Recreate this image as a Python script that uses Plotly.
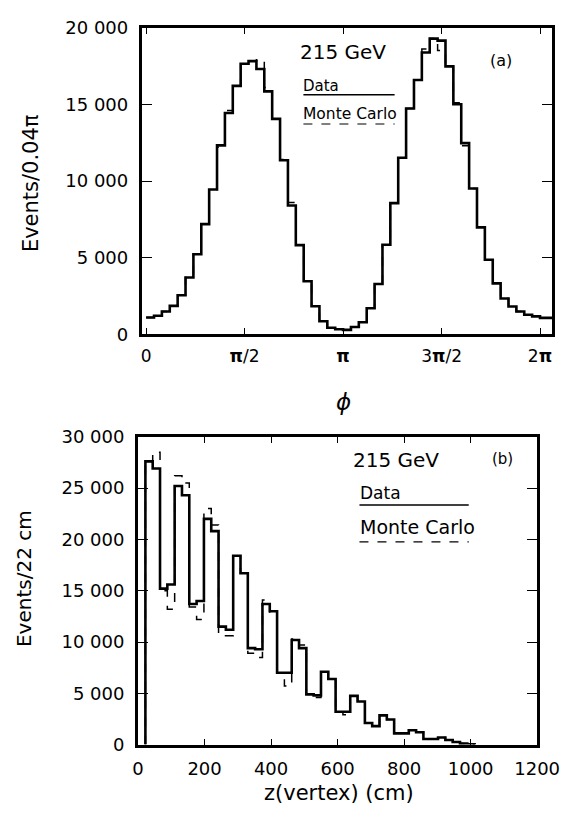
import math
import plotly.graph_objects as go

PI = math.pi

# ---------------- Panel (a): phi distribution, bins of 0.04*pi ----------------
phi_bin_width = 0.04 * PI
phi_data = [1100, 1220, 1500, 1860, 2550, 3710, 5230, 7190, 9450, 12320,
            14430, 16200, 17640, 17810, 17300, 15840, 14050, 11350, 8400, 5820,
            3470, 1840, 865, 440, 340, 300, 490, 800, 1710, 3290,
            5850, 8560, 11520, 14730, 16580, 18370, 19280, 19150, 17470, 15000,
            12470, 9510, 6980, 4870, 3330, 2340, 1820, 1500, 1280, 1180,
            1080, 1080]
phi_mc = [1100, 1220, 1500, 1860, 2550, 3710, 5230, 7190, 9450, 12200,
          14600, 16200, 17640, 17810, 17900, 16100, 14200, 11400, 8600, 5820,
          3470, 1840, 865, 440, 340, 300, 490, 800, 1710, 3290,
          5850, 8560, 11520, 14730, 16580, 18600, 19280, 18500, 17470, 15100,
          12300, 9510, 6980, 4870, 3330, 2340, 1820, 1500, 1280, 1180,
          1080, 1080]
phi_tickvals = [0, PI / 2, PI, 3 * PI / 2, 2 * PI]
phi_ticktext = ["0", "<b>π</b>/2", "<b>π</b>", "3<b>π</b>/2", "2<b>π</b>"]
a_yticks = [0, 5000, 10000, 15000, 20000]
a_yticktext = ["0", "5 000", "10 000", "15 000", "20 000"]

# ---------------- Panel (b): z(vertex), bins of 22 cm ----------------
z_start = 22
z_bin_width = 22
z_data = [27600, 26900, 15200, 15600, 25200, 24300, 13700, 14000, 22000, 20800,
          11500, 11200, 18400, 16700, 9400, 9300, 13700, 13000, 7000, 7000,
          10200, 9400, 4900, 4800, 7100, 6400, 3200, 3200, 4750, 4200,
          2100, 1800, 2850, 2450, 1100, 1100, 1400, 1200, 550, 550,
          700, 450, 250, 100, 30]
z_mc = [27600, 28500, 15000, 13200, 26200, 25500, 13400, 12200, 23000, 21400,
        10600, 10600, 18400, 16700, 8900, 8500, 14100, 12700, 7000, 5700,
        10300, 9700, 4900, 4600, 7100, 6400, 3200, 2900, 4750, 4200,
        2100, 1800, 2850, 2450, 1100, 1100, 1400, 1200, 550, 550,
        700, 450, 250, 100, 30]
z_tickvals = [0, 200, 400, 600, 800, 1000, 1200]
b_yticks = [0, 5000, 10000, 15000, 20000, 25000, 30000]
b_yticktext = ["0", "5 000", "10 000", "15 000", "20 000", "25 000", "30 000"]


def phi_steps(vals):
    xs = [i * phi_bin_width for i in range(len(vals) + 1)]
    ys = list(vals) + [vals[-1]]
    return xs, ys


def z_steps(vals):
    edges = [z_start + i * z_bin_width for i in range(len(vals) + 1)]
    xs = [edges[0]] + edges
    ys = [0] + list(vals) + [0]
    return xs, ys


FONT = "DejaVu Sans"
W, H = 582, 816

fig = go.Figure()

x, y = phi_steps(phi_mc)
fig.add_trace(go.Scatter(x=x, y=y, mode="lines", line=dict(shape="hv", color="black", width=1.5, dash="dash"),
                         xaxis="x", yaxis="y", showlegend=False, hoverinfo="skip"))
x, y = phi_steps(phi_data)
fig.add_trace(go.Scatter(x=x, y=y, mode="lines", line=dict(shape="hv", color="black", width=2.6),
                         xaxis="x", yaxis="y", showlegend=False, hoverinfo="skip"))
x, y = z_steps(z_mc)
fig.add_trace(go.Scatter(x=x, y=y, mode="lines", line=dict(shape="hv", color="black", width=1.5, dash="dash"),
                         xaxis="x2", yaxis="y2", showlegend=False, hoverinfo="skip"))
x, y = z_steps(z_data)
fig.add_trace(go.Scatter(x=x, y=y, mode="lines", line=dict(shape="hv", color="black", width=2.6),
                         xaxis="x2", yaxis="y2", showlegend=False, hoverinfo="skip"))


def px_x(p):
    return p / W


def px_y(p):
    return 1 - p / H


def axis_style(size, ticklen):
    return dict(showline=True, linecolor="black", linewidth=3, mirror="allticks",
                ticks="inside", ticklen=ticklen, tickwidth=1, tickcolor="black",
                showgrid=False, zeroline=False,
                tickfont=dict(family=FONT, size=size, color="black"))


fig.update_layout(
    width=W, height=H,
    margin=dict(l=0, r=0, t=0, b=0),
    paper_bgcolor="white", plot_bgcolor="white",
    xaxis=dict(domain=[px_x(143), px_x(575)], anchor="y", range=[-0.068, 6.48],
               tickvals=phi_tickvals, ticktext=phi_ticktext, ticklabelstandoff=4,
               **axis_style(17, 6)),
    yaxis=dict(domain=[px_y(332), px_y(17)], anchor="x", range=[0, 20000],
               tickvals=a_yticks, ticktext=a_yticktext, ticklabelstandoff=7,
               **axis_style(18, 10)),
    xaxis2=dict(domain=[px_x(139), px_x(559)], anchor="y2", range=[0, 1200],
                tickvals=z_tickvals, ticklabelstandoff=6, **axis_style(18, 6)),
    yaxis2=dict(domain=[px_y(753), px_y(437)], anchor="x2", range=[0, 30000],
                tickvals=b_yticks, ticktext=b_yticktext, ticklabelstandoff=7,
                **axis_style(18, 10)),
)

ann = []


def text(xp, yp, s, size, xanchor="center", angle=0, italic=False):
    ann.append(dict(x=px_x(xp), y=px_y(yp), xref="paper", yref="paper", text=s, showarrow=False,
                    xanchor=xanchor, yanchor="middle", textangle=angle, borderpad=0,
                    font=dict(family=FONT, size=size, color="black",
                              style="italic" if italic else "normal")))


# axis titles
text(27, 177, "Events/0.04π", 21, angle=-90)
text(355, 401, "ϕ", 23, italic=True)
text(19, 583, "Events/22 cm", 20, angle=-90)
text(350, 803, "z(vertex) (cm)", 21)

# panel a legend
text(308, 42, "215 GeV", 20, xanchor="left")
text(521, 51, "(a)", 16)
text(312, 77, "Data", 15, xanchor="left")
text(312, 106, "Monte Carlo", 15.5, xanchor="left")
# panel b legend
text(364, 461, "215 GeV", 20, xanchor="left")
text(523, 460, "(b)", 15)
text(371, 495, "Data", 17, xanchor="left")
text(371, 530, "Monte Carlo", 19, xanchor="left")

fig.update_layout(annotations=ann)

shapes = [
    dict(type="line", xref="paper", yref="paper", x0=px_x(313), x1=px_x(409), y0=px_y(86), y1=px_y(86),
         line=dict(color="black", width=1.5)),
    dict(type="line", xref="paper", yref="paper", x0=px_x(313), x1=px_x(409), y0=px_y(116), y1=px_y(116),
         line=dict(color="black", width=1.2, dash="dash")),
    dict(type="line", xref="paper", yref="paper", x0=px_x(372), x1=px_x(487), y0=px_y(507), y1=px_y(507),
         line=dict(color="black", width=1.5)),
    dict(type="line", xref="paper", yref="paper", x0=px_x(372), x1=px_x(487), y0=px_y(545), y1=px_y(545),
         line=dict(color="black", width=1.2, dash="dash")),
]
fig.update_layout(shapes=shapes)

fig.write_html("out.html")
